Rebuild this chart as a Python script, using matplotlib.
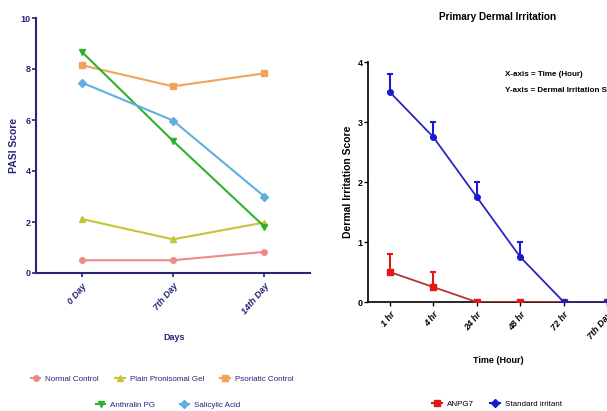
import matplotlib
matplotlib.use("Agg")
import matplotlib.pyplot as plt
from matplotlib.lines import Line2D
import numpy as np

plt.rcParams['font.family'] = ['Liberation Sans', 'DejaVu Sans']

# left chart data
days = ['0 Day', '7th Day', '14th Day']
normal_control = [0.5, 0.5, 0.83]
plain_gel = [2.12, 1.32, 1.98]
psoriatic_control = [8.15, 7.32, 7.83]
anthralin_pg = [8.68, 5.18, 1.82]
salicylic_acid = [7.47, 5.98, 3.0]

# right chart data
hours = ['1 hr', '4 hr', '24 hr', '48 hr', '72 hr', '7th Day']
anpg7 = [0.5, 0.25, 0, 0, 0, 0]
anpg7_err = [0.3, 0.25, 0, 0, 0, 0]
standard = [3.5, 2.75, 1.75, 0.75, 0, 0]
standard_err = [0.3, 0.25, 0.25, 0.25, 0, 0]

W, H = 607, 411
fig = plt.figure(figsize=(W / 100, H / 100), dpi=100)
navy = '#25257a'

def box(x0, y0, x1, y1):
    # pixel box -> figure fraction
    return [x0 / W, 1 - y1 / H, (x1 - x0) / W, (y1 - y0) / H]

# ---------------- left chart ----------------
ax = fig.add_axes(box(36, 18, 310, 273))
x = np.arange(len(days))
series = [
    (normal_control, '#ee8a86', 'o', 'Normal Control'),
    (plain_gel, '#c8c43a', '^', 'Plain Pronisomal Gel'),
    (psoriatic_control, '#f2a35a', 's', 'Psoriatic Control'),
    (anthralin_pg, '#2fb02f', 'v', 'Anthralin PG'),
    (salicylic_acid, '#62aee0', 'D', 'Salicylic Acid'),
]
for vals, col, mk, lab in series:
    ax.plot(x, vals, color=col, marker=mk, markersize=4, linewidth=1.5)
ax.set_xlim(-0.5, 2.5)
ax.set_ylim(0, 10)
ax.set_yticks(range(0, 11, 2))
ax.set_xticks(x)
ax.set_xticklabels(days, rotation=50, ha='right', rotation_mode='anchor',
                   fontsize=6.5, fontweight='bold', fontstyle='italic', color=navy)
for t in ax.get_yticklabels():
    t.set_fontsize(6.5)
    t.set_fontweight('bold')
    t.set_color(navy)
for s in ['top', 'right']:
    ax.spines[s].set_visible(False)
for s in ['left', 'bottom']:
    ax.spines[s].set_color(navy)
    ax.spines[s].set_linewidth(1.5)
ax.tick_params(colors=navy, length=3, width=1.2, pad=1)
ax.tick_params(axis='x', pad=3)
ax.set_ylabel('PASI Score', fontsize=7.5, fontweight='bold', color=navy, labelpad=1)
fig.text(174 / W, 1 - 337 / H, 'Days', fontsize=6.5, fontweight='bold', color=navy,
         ha='center', va='center')

handles = [Line2D([0], [0], color=c, marker=m, markersize=4, linewidth=1.5)
           for _, c, m, _ in series]
labels = [s[3] for s in series]
leg1 = fig.legend(handles[:3], labels[:3], loc='center', ncol=3,
                  bbox_to_anchor=(162 / W, 1 - 379 / H), frameon=False,
                  fontsize=5.8, handlelength=1.2, columnspacing=2.0, handletextpad=0.6)
leg2 = fig.legend(handles[3:], labels[3:], loc='center', ncol=2,
                  bbox_to_anchor=(168 / W, 1 - 405 / H), frameon=False,
                  fontsize=5.8, handlelength=1.2, columnspacing=3.0, handletextpad=0.6)
for lg in (leg1, leg2):
    for t in lg.get_texts():
        t.set_color(navy)

# ---------------- right chart ----------------
ax2 = fig.add_axes(box(368, 62, 629, 302))
xr = np.arange(len(hours))
red = '#e01818'
blue = '#1a1ad0'
ax2.errorbar(xr, anpg7, yerr=[np.zeros(len(xr)), anpg7_err], color='#b83232',
             ecolor=red, marker='s', markersize=4, mfc=red, mec=red,
             linewidth=1.3, elinewidth=1.5, capsize=2, capthick=1.5, zorder=3)
ax2.errorbar(xr, standard, yerr=[np.zeros(len(xr)), standard_err], color='#2828c0',
             ecolor=blue, marker='o', markersize=4, mfc=blue, mec=blue,
             linewidth=1.3, elinewidth=1.5, capsize=2, capthick=1.5, zorder=4)
ax2.set_xlim(-0.5, 5.5)
ax2.set_ylim(0, 4)
ax2.set_yticks(range(0, 5))
ax2.set_xticks(xr)
ax2.set_xticklabels(hours, rotation=50, ha='right', rotation_mode='anchor',
                    fontsize=6.5, fontweight='bold', fontstyle='italic')
for t in ax2.get_yticklabels():
    t.set_fontsize(6.5)
    t.set_fontweight('bold')
for s in ['top', 'right']:
    ax2.spines[s].set_visible(False)
for s in ['left', 'bottom']:
    ax2.spines[s].set_linewidth(1.2)
ax2.tick_params(length=3, width=1.0, pad=1)
ax2.tick_params(axis='x', pad=3)
ax2.set_ylabel('Dermal Irritation Score', fontsize=7.5, fontweight='bold', labelpad=3)

fig.text(498 / W, 1 - 17 / H, 'Primary Dermal Irritation', fontsize=7.2,
         fontweight='bold', ha='center', va='center')
fig.text(505 / W, 1 - 75 / H, 'X-axis = Time (Hour)', fontsize=5.8,
         fontweight='bold', ha='left', va='center')
fig.text(505 / W, 1 - 90 / H, 'Y-axis = Dermal Irritation Score', fontsize=5.8,
         fontweight='bold', ha='left', va='center')
fig.text(498 / W, 1 - 360 / H, 'Time (Hour)', fontsize=6.5, fontweight='bold',
         ha='center', va='center')

h2 = [Line2D([0], [0], color=red, marker='s', markersize=4, linewidth=1.5),
      Line2D([0], [0], color=blue, marker='D', markersize=4, linewidth=1.5)]
fig.legend(h2, ['ANPG7', 'Standard irritant'], loc='center', ncol=2,
           bbox_to_anchor=(497 / W, 1 - 404 / H), frameon=False, fontsize=5.8,
           handlelength=1.2, columnspacing=2.0, handletextpad=0.6)

fig.savefig('out.png', dpi=100)
